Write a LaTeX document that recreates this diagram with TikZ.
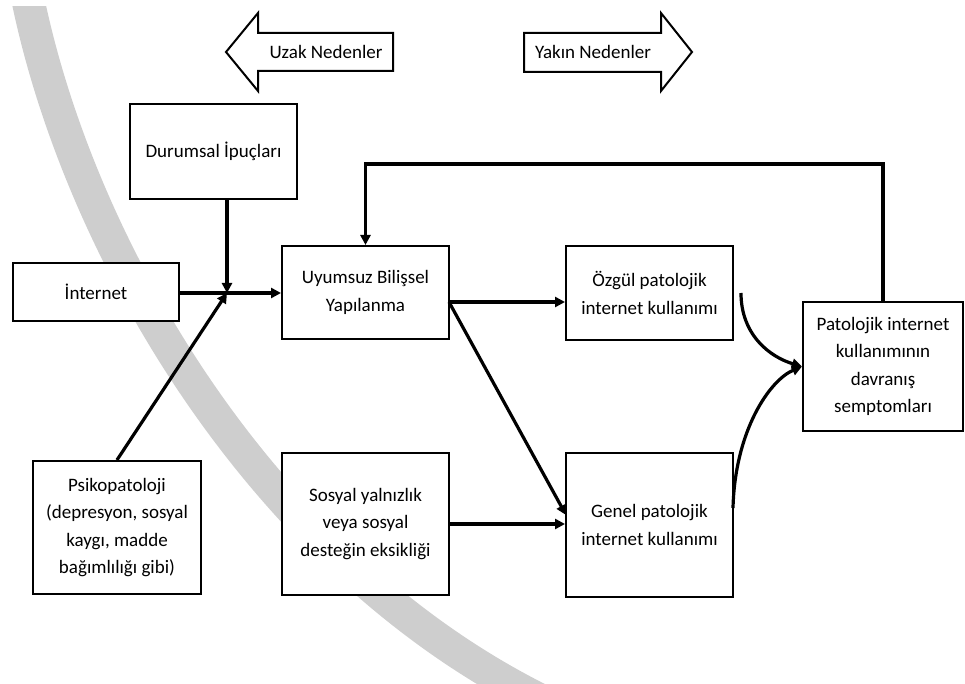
\documentclass[tikz,border=0pt]{standalone}
\usepackage{fontspec}
\setmainfont{Carlito}
\usetikzlibrary{arrows.meta}
\definecolor{bandgray}{RGB}{206,206,206}
\tikzset{
  box/.style={draw=black, line width=1.5pt, fill=white, align=center, inner sep=0pt,
    font=\fontsize{14.25}{20.5}\selectfont},
  wh/.style 2 args={minimum width=#1*0.75pt, minimum height=#2*0.75pt},
  arr/.style={line width=2.4pt, -{Triangle[length=7.5pt,width=7.5pt]}},
  blk/.style={draw=black, line width=1.5pt, fill=white, line join=miter},
  lbl/.style={font=\fontsize{14.25}{17}\selectfont, inner sep=0pt}
}
\begin{document}
\begin{tikzpicture}[x=0.75pt,y=-0.75pt]
\useasboundingbox (0,0) rectangle (965,684);
% grey band
\begin{scope}
  \clip (0,7) rectangle (965,684);
  \draw[bandgray, line width=24.75pt] (28,0) .. controls (80,250) and (260,560) .. (540,700);
\end{scope}
% block arrows
\draw[blk] (393,33) -- (258,33) -- (258,13) -- (226,52) -- (258,91) -- (258,71) -- (393,71) -- cycle;
\node[lbl] (uzak) at (326,52) {Uzak Nedenler};
\draw[blk] (524,33) -- (661,33) -- (661,13) -- (692,52) -- (661,91) -- (661,72) -- (524,72) -- cycle;
\node[lbl] (yakin) at (593,52) {Yakın Nedenler};
% boxes
\node[box, wh={167}{95}]  (dur)    at (213.5,151.5) {Durumsal İpuçları};
\node[box, wh={166}{58}]  (inet)   at (96,292)      {İnternet};
\node[box, wh={167}{93}]  (uyum)   at (365.5,292.5) {Uyumsuz Bilişsel\\Yapılanma};
\node[box, wh={167}{94}]  (ozgul)  at (649.5,293)   {Özgül patolojik\\internet kullanımı};
\node[box, wh={168}{133}] (psiko)  at (117,527.5)   {Psikopatoloji\\(depresyon, sosyal\\kaygı, madde\\bağımlılığı gibi)};
\node[box, wh={167}{142}] (sosyal) at (365.5,524)   {Sosyal yalnızlık\\veya sosyal\\desteğin eksikliği};
\node[box, wh={167}{144}] (genel)  at (649.5,525)   {Genel patolojik\\internet kullanımı};
\node[box, wh={160}{129}] (pat)    at (883,366.5)   {Patolojik internet\\kullanımının\\davranış\\semptomları};
% helper coordinates
\coordinate (J)  at (227,293);
\coordinate (u1) at (449,302);
\coordinate (g1) at (566,515);
\coordinate (o1) at (741,293);
\coordinate (g2) at (733,508);
\coordinate (fb) at (365.5,164);
% connectors
\draw[arr] (J |- dur.south) -- (J);
\draw[arr] (psiko.north) -- (J);
\draw[arr] (inet.east |- J) -- (uyum.west |- J);
\draw[arr] (u1) -- (u1 -| ozgul.west);
\draw[arr] (u1) -- (g1);
\draw[arr] (sosyal.east) -- (sosyal.east -| genel.west);
\draw[arr] (o1) .. controls (741,335) and (770,357) .. (pat.west);
\draw[arr] (g2) .. controls (735,430) and (770,380) .. (pat.west);
\draw[arr] (pat.north) |- (fb) -- (uyum.north);
\end{tikzpicture}
\end{document}
